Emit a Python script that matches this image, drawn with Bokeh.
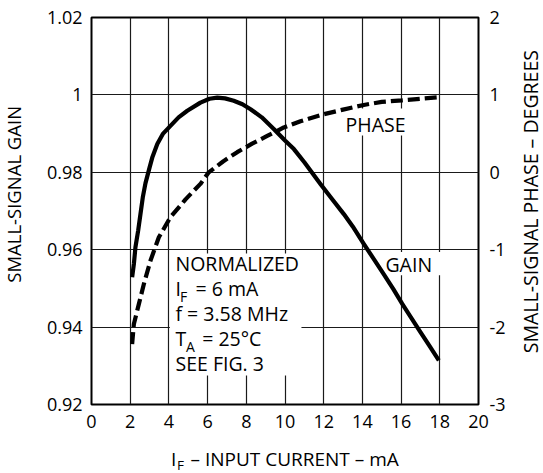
import math
from bokeh.plotting import figure
from bokeh.layouts import row, column
from bokeh.models import (Range1d, LinearAxis, FixedTicker, CustomJSTickFormatter,
                          Label, ColumnDataSource)
from bokeh.core.properties import value
from bokeh.embed import file_html
from bokeh.resources import INLINE

# ---------------- data ----------------
current_gain = [2.10, 2.19, 2.27, 2.41, 2.53, 2.65, 2.79, 3.00, 3.14, 3.40, 3.70, 4.08,
                4.50, 4.95, 5.63, 6.10, 6.50, 6.90, 7.35, 7.80, 8.22, 8.80, 9.42, 10.00,
                10.46, 11.00, 11.83, 12.40, 13.04, 13.50, 14.07, 14.60, 15.10, 15.60,
                16.06, 16.50, 17.00, 17.50, 17.95]
gain = [0.9529, 0.9563, 0.9606, 0.9649, 0.9692, 0.9735, 0.9772, 0.9812, 0.9838, 0.9873,
        0.9900, 0.9920, 0.9942, 0.9959, 0.9980, 0.9990, 0.9993, 0.9991, 0.9985, 0.9976,
        0.9963, 0.9942, 0.9912, 0.9882, 0.9860, 0.9826, 0.9770, 0.9733, 0.9692, 0.9660,
        0.9615, 0.9575, 0.9537, 0.9498, 0.9460, 0.9426, 0.9387, 0.9349, 0.9314]

current_phase = [2.10, 2.19, 2.45, 2.71, 3.05, 3.48, 4.08, 4.86, 5.63, 6.06, 6.80, 7.53,
                 8.30, 9.08, 9.94, 10.80, 12.00, 13.00, 14.07, 15.00, 16.06, 17.00, 17.95]
phase = [-2.22, -1.96, -1.70, -1.44, -1.14, -0.84, -0.58, -0.35, -0.15, 0.00, 0.14, 0.26,
         0.37, 0.47, 0.58, 0.66, 0.75, 0.81, 0.87, 0.91, 0.93, 0.95, 0.97]

x_ticks = [0, 2, 4, 6, 8, 10, 12, 14, 16, 18, 20]
gain_ticks = [0.92, 0.94, 0.96, 0.98, 1.00, 1.02]
phase_ticks = [-3, -2, -1, 0, 1, 2]

x_title = ["I", "F", "– INPUT CURRENT – mA"]
gain_title = "SMALL-SIGNAL GAIN"
phase_title = "SMALL-SIGNAL PHASE – DEGREES"
note_lines = [("NORMALIZED", "", ""), ("I", "F", "= 6 mA"), ("f = 3.58 MHz", "", ""),
              ("T", "A", "= 25°C"), ("SEE FIG. 3", "", "")]
phase_label = "PHASE"
gain_label = "GAIN"

# ---------------- style / layout ----------------
FONT = "Open Sans"
PX_Y = 3870.0     # px per gain unit inside the frame
LIFT = 0.38       # baseline correction, in font sizes

LEFT_W, MAIN_W, RIGHT_W = 32, 486, 25
MAIN_H, BOTTOM_H = 445, 28
TOTAL_W = LEFT_W + MAIN_W + RIGHT_W

p = figure(width=MAIN_W, height=MAIN_H, x_range=Range1d(0, 20), y_range=Range1d(0.92, 1.02),
           output_backend="svg", toolbar_location=None, title=None,
           min_border_left=59, min_border_right=40, min_border_top=17, min_border_bottom=41)
p.extra_y_ranges = {"phase": Range1d(-3, 2)}
p.background_fill_color = "white"
p.border_fill_color = "white"
p.outline_line_color = "black"
p.outline_line_width = 2

right_axis = LinearAxis(y_range_name="phase")
p.add_layout(right_axis, "right")

p.xaxis.ticker = FixedTicker(ticks=x_ticks)
p.yaxis[0].ticker = FixedTicker(ticks=gain_ticks)
right_axis.ticker = FixedTicker(ticks=phase_ticks)
p.xaxis.formatter = CustomJSTickFormatter(code="return String(Math.round(tick));")
p.yaxis[0].formatter = CustomJSTickFormatter(code="return String(Math.round(tick*100)/100);")
right_axis.formatter = CustomJSTickFormatter(code="return String(Math.round(tick));")

for ax in [p.xaxis[0], p.yaxis[0], right_axis]:
    ax.axis_line_color = None
    ax.major_tick_line_color = None
    ax.minor_tick_line_color = None
    ax.major_tick_in = 0
    ax.major_tick_out = 0
    ax.minor_tick_in = 0
    ax.minor_tick_out = 0
    ax.major_label_text_font = FONT
    ax.major_label_text_font_size = "18px"
    ax.major_label_text_color = "black"
    ax.major_label_standoff = 9
p.xaxis.major_label_standoff = 10
right_axis.major_label_standoff = 11

p.xgrid.ticker = FixedTicker(ticks=x_ticks)
p.ygrid.ticker = FixedTicker(ticks=gain_ticks)
for g in [p.xgrid[0], p.ygrid[0]]:
    g.grid_line_color = "#1a1a1a"
    g.grid_line_width = 1.2

# white boxes behind the annotation texts
boxes = ColumnDataSource(dict(left=[4.05, 12.92, 15.0], right=[10.85, 16.38, 18.35],
                              bottom=[0.9275, 0.9895, 0.9534], top=[0.9590, 0.9965, 0.9594]))
p.quad(left="left", right="right", bottom="bottom", top="top", source=boxes,
       fill_color="white", line_color=None)

p.line(current_gain, gain, line_color="black", line_width=4.2, line_join="round")
p.line(current_phase, phase, y_range_name="phase", line_color="black", line_width=4.2,
       line_dash="12 5")


def txt(x, y, s, size=19.5):
    p.add_layout(Label(x=x, y=y + LIFT * size / PX_Y, text=s, text_font=FONT,
                       text_font_size=f"{size}px", text_color="black",
                       text_baseline="alphabetic"))


# annotation block
base_y = [0.95463, 0.94817, 0.94171, 0.93525, 0.92879]
for (main, sub, rest), by in zip(note_lines, base_y):
    txt(4.341, by, main)
    if sub:
        sub_x = 4.574 if main == "I" else 4.884
        rest_x = 5.375 if main == "I" else 5.721
        txt(sub_x, by - 6 / PX_Y, sub, size=14)
        txt(rest_x, by, rest)

txt(13.13, 0.99036, phase_label)
txt(15.19, 0.95419, gain_label)


# ---------------- title panels (plain pixel coordinates) ----------------
def text_panel(w, h):
    f = figure(width=w, height=h, x_range=Range1d(0, w), y_range=Range1d(0, h),
               x_axis_type=None, y_axis_type=None, output_backend="svg", title=None,
               toolbar_location=None, min_border_left=0, min_border_right=0,
               min_border_top=0, min_border_bottom=0)
    f.outline_line_color = None
    f.background_fill_color = "white"
    f.border_fill_color = "white"
    return f


left_fig = text_panel(LEFT_W, MAIN_H)
left_fig.text(x=[12.8], y=[MAIN_H - 203.3], text=[gain_title], angle=math.pi / 2,
              text_align="center", text_baseline="middle", text_font=value(FONT),
              text_font_size="18.5px", text_color="black")

right_fig = text_panel(RIGHT_W, MAIN_H)
right_fig.text(x=[11.5], y=[MAIN_H - 211.7], text=[phase_title], angle=math.pi / 2,
               text_align="center", text_baseline="middle", text_font=value(FONT),
               text_font_size="19.5px", text_color="black")

# bottom title panel spans the full width, so its x is the page x
bottom_fig = text_panel(TOTAL_W, BOTTOM_H)
by0 = BOTTOM_H - (466.0 - MAIN_H)
bottom_fig.text(x=[170.6], y=[by0 + LIFT * 19], text=[x_title[0]], text_font=value(FONT),
                text_font_size="19px", text_color="black", text_baseline="alphabetic")
bottom_fig.text(x=[176.6], y=[by0 - 4 + LIFT * 13.5], text=[x_title[1]],
                text_font=value(FONT), text_font_size="13.5px", text_color="black",
                text_baseline="alphabetic")
bottom_fig.text(x=[190.0], y=[by0 + LIFT * 19], text=[x_title[2]], text_font=value(FONT),
                text_font_size="19px", text_color="black", text_baseline="alphabetic")

page = column(row(left_fig, p, right_fig), bottom_fig)
open("out.html", "w").write(file_html(page, INLINE))
